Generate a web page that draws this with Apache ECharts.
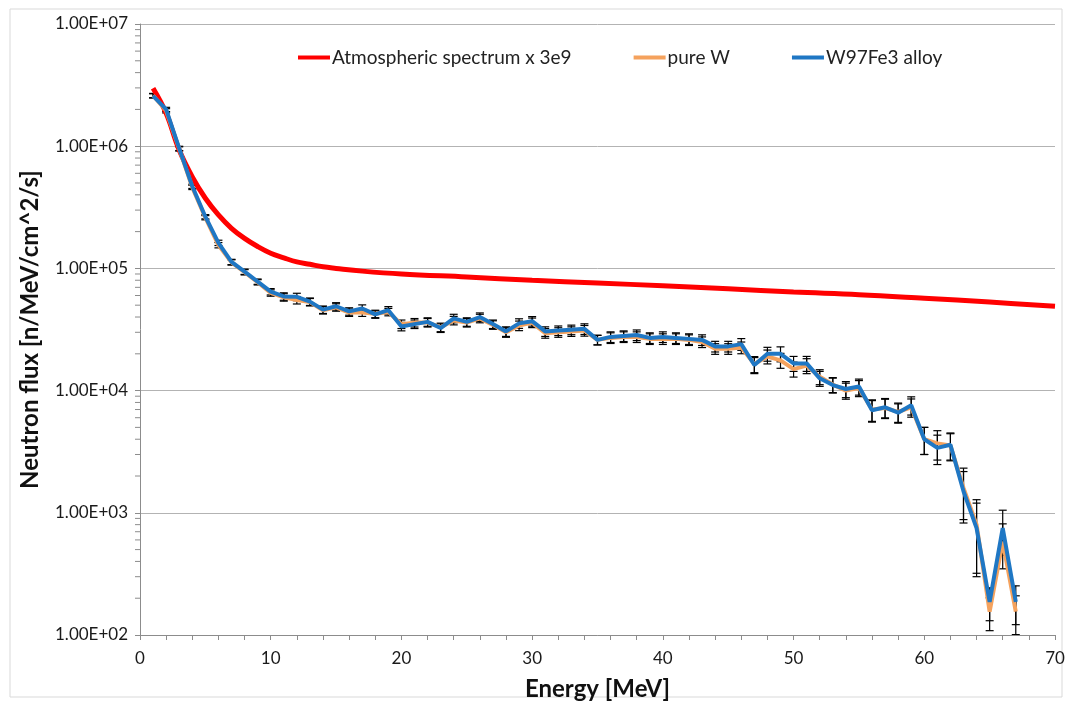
<!DOCTYPE html>
<html>
<head>
<meta charset="utf-8">
<script src="https://cdn.jsdelivr.net/npm/echarts@6/dist/echarts.min.js"></script>
<style>
  html, body { margin: 0; padding: 0; background: #fff; }
  #chart { width: 1070px; height: 701px; }
</style>
</head>
<body>
<div id="chart"></div>
<script>
// energy bins (MeV)
var energy = [1, 2, 3, 4, 5, 6, 7, 8, 9, 10, 11, 12, 13, 14, 15, 16, 17, 18, 19, 20,
    21, 22, 23, 24, 25, 26, 27, 28, 29, 30, 31, 32, 33, 34, 35, 36, 37, 38, 39, 40,
    41, 42, 43, 44, 45, 46, 47, 48, 49, 50, 51, 52, 53, 54, 55, 56, 57, 58, 59, 60,
    61, 62, 63, 64, 65, 66, 67];

// W97Fe3 alloy
var alloyFlux = [2.58e6, 2.0e6, 9.6e5, 4.7e5, 2.65e5, 1.62e5, 1.13e5, 9.4e4, 7.8e4, 6.45e4,
    5.9e4, 5.85e4, 5.35e4, 4.6e4, 4.9e4, 4.45e4, 4.7e4, 4.2e4, 4.55e4, 3.35e4,
    3.5e4, 3.65e4, 3.25e4, 3.9e4, 3.65e4, 4.0e4, 3.5e4, 3.05e4, 3.55e4, 3.7e4,
    3.05e4, 3.1e4, 3.15e4, 3.2e4, 2.6e4, 2.75e4, 2.8e4, 2.85e4, 2.7e4, 2.75e4,
    2.7e4, 2.65e4, 2.6e4, 2.3e4, 2.3e4, 2.4e4, 1.62e4, 2.0e4, 2.0e4, 1.67e4,
    1.67e4, 1.26e4, 1.11e4, 1.03e4, 1.08e4, 6.9e3, 7.3e3, 6.6e3, 7.6e3, 4.0e3,
    3.4e3, 3.6e3, 1.5e3, 750, 187, 750, 187];

// pure W
var pureFlux = [2.6e6, 1.95e6, 9.5e5, 4.6e5, 2.6e5, 1.55e5, 1.12e5, 9.3e4, 7.7e4, 6.3e4,
    5.8e4, 5.5e4, 5.3e4, 4.55e4, 4.8e4, 4.35e4, 4.35e4, 4.25e4, 4.4e4, 3.5e4,
    3.6e4, 3.6e4, 3.3e4, 3.75e4, 3.6e4, 3.9e4, 3.45e4, 3.0e4, 3.4e4, 3.6e4,
    2.95e4, 3.0e4, 3.05e4, 3.1e4, 2.6e4, 2.7e4, 2.75e4, 2.75e4, 2.65e4, 2.65e4,
    2.65e4, 2.6e4, 2.5e4, 2.2e4, 2.2e4, 2.25e4, 1.65e4, 1.9e4, 1.77e4, 1.5e4,
    1.6e4, 1.3e4, 1.12e4, 1.0e4, 1.05e4, 7.0e3, 7.2e3, 6.7e3, 7.3e3, 4.0e3,
    3.7e3, 3.55e3, 1.6e3, 800, 155, 580, 155];

// relative error of each bin
var relErr = [0.04, 0.04, 0.04, 0.04, 0.04, 0.05, 0.05, 0.05, 0.05, 0.06,
    0.07, 0.07, 0.07, 0.07, 0.07, 0.07, 0.07, 0.07, 0.07, 0.08,
    0.08, 0.08, 0.08, 0.08, 0.08, 0.08, 0.08, 0.09, 0.09, 0.09,
    0.09, 0.09, 0.09, 0.1, 0.09, 0.1, 0.1, 0.1, 0.1, 0.1,
    0.1, 0.1, 0.1, 0.1, 0.1, 0.11, 0.15, 0.13, 0.14, 0.14,
    0.14, 0.14, 0.14, 0.15, 0.15, 0.2, 0.18, 0.18, 0.17, 0.25,
    0.27, 0.25, 0.45, 0.6, 0.3, 0.4, 0.35];

// atmospheric spectrum x 3e9 (smooth curve)
var atmoEnergy = [1, 2, 3, 4, 5, 6, 7, 8, 9, 10, 11, 12, 13, 14, 15, 17, 20, 25, 30, 35, 40, 45, 50, 55, 60, 65, 70];
var atmoFlux = [2.98e6, 1.86e6, 9.3e5, 5.6e5, 3.75e5, 2.74e5, 2.13e5, 1.76e5, 1.51e5, 1.33e5,
    1.22e5, 1.13e5, 1.08e5, 1.03e5, 1.0e5, 9.5e4, 9.0e4, 8.5e4, 8.0e4, 7.6e4,
    7.2e4, 6.8e4, 6.4e4, 6.1e4, 5.7e4, 5.3e4, 4.9e4];

var yTicks = [1e2, 1e3, 1e4, 1e5, 1e6, 1e7];
var minorSteps = [2, 3, 4, 5, 6, 7, 8, 9];

var fontName = 'Lato';

function pairs(xs, ys) {
    var out = [];
    for (var i = 0; i < xs.length; i++) {
        out.push([xs[i], ys[i]]);
    }
    return out;
}

function fmtExp(v) {
    var e = Math.round(Math.log(v) / Math.LN10);
    var s = e < 10 ? '0' + e : '' + e;
    return '1.00E+' + s;
}

// black error bars for one series
function errorBars(name, vals) {
    var data = [];
    for (var i = 0; i < vals.length; i++) {
        data.push([energy[i], vals[i] * (1 - relErr[i]), vals[i] * (1 + relErr[i])]);
    }
    return {
        type: 'custom',
        name: name,
        silent: true,
        clip: true,
        z: 1,
        encode: {x: 0, y: [1, 2]},
        data: data,
        renderItem: function (params, api) {
            var x = api.value(0);
            var lo = api.coord([x, api.value(1)]);
            var hi = api.coord([x, api.value(2)]);
            var w = 4;
            var st = {stroke: '#000', lineWidth: 1.2};
            return {
                type: 'group',
                children: [
                    {type: 'line', shape: {x1: lo[0], y1: lo[1], x2: hi[0], y2: hi[1]}, style: st},
                    {type: 'line', shape: {x1: lo[0] - w, y1: lo[1], x2: lo[0] + w, y2: lo[1]}, style: st},
                    {type: 'line', shape: {x1: hi[0] - w, y1: hi[1], x2: hi[0] + w, y2: hi[1]}, style: st}
                ]
            };
        }
    };
}

// log minor ticks on the y axis (2..9 in each decade)
var minorData = [];
for (var d = 0; d < yTicks.length - 1; d++) {
    for (var k = 0; k < minorSteps.length; k++) {
        minorData.push([0, yTicks[d] * minorSteps[k]]);
    }
}

var myChart = echarts.init(document.getElementById('chart'));

var option = {
    animation: false,
    backgroundColor: '#fff',
    graphic: [{
        type: 'rect',
        shape: {x: 10, y: 9, width: 1052, height: 688},
        style: {fill: 'none', stroke: '#d9d9d9', lineWidth: 1},
        silent: true
    }],
    grid: {left: 140, right: 15, top: 24, bottom: 66, containLabel: false, outerBoundsMode: 'none'},
    legend: {
        top: 43,
        left: 293,
        itemGap: 62,
        itemWidth: 32,
        itemHeight: 4,
        icon: 'rect',
        textStyle: {fontFamily: fontName, fontSize: 19, color: '#222', padding: [0, 0, 0, -3]},
        data: ['Atmospheric spectrum x 3e9', 'pure W', 'W97Fe3 alloy']
    },
    xAxis: {
        type: 'value',
        min: 0,
        max: 70,
        interval: 10,
        name: 'Energy [MeV]',
        nameLocation: 'middle',
        nameGap: 42,
        nameTextStyle: {fontFamily: fontName, fontSize: 24, fontWeight: 'bold', color: '#111'},
        axisLine: {lineStyle: {color: '#8c8c8c', width: 1}},
        axisTick: {show: true, length: 5, lineStyle: {color: '#8c8c8c'}},
        minorTick: {show: true, splitNumber: 5, length: 5, lineStyle: {color: '#8c8c8c'}},
        axisLabel: {fontFamily: fontName, fontSize: 17, color: '#1a1a1a', margin: 15},
        splitLine: {show: false}
    },
    yAxis: {
        type: 'log',
        logBase: 10,
        min: 100,
        max: 1e7,
        name: 'Neutron flux [n/MeV/cm^2/s]',
        nameLocation: 'middle',
        nameGap: 98,
        nameTextStyle: {fontFamily: fontName, fontSize: 24, fontWeight: 'bold', color: '#111'},
        axisLine: {show: true, lineStyle: {color: '#8c8c8c', width: 1}},
        axisTick: {show: true, length: 5, lineStyle: {color: '#8c8c8c'}},
        axisLabel: {
            fontFamily: fontName, fontSize: 17, color: '#1a1a1a', margin: 12,
            formatter: function (v) { return fmtExp(v); }
        },
        splitLine: {show: true, lineStyle: {color: '#b3b3b3', width: 1}}
    },
    series: [
        {
            type: 'custom',
            name: 'minorTicks',
            silent: true,
            clip: false,
            data: minorData,
            encode: {x: 0, y: 1},
            renderItem: function (params, api) {
                var p = api.coord([0, api.value(1)]);
                return {
                    type: 'line',
                    shape: {x1: p[0] - 5, y1: p[1], x2: p[0], y2: p[1]},
                    style: {stroke: '#8c8c8c', lineWidth: 1}
                };
            }
        },
        errorBars('errPure', pureFlux),
        errorBars('errAlloy', alloyFlux),
        {
            name: 'Atmospheric spectrum x 3e9',
            type: 'line',
            smooth: 0.4,
            symbol: 'none',
            z: 3,
            lineStyle: {color: '#ff0000', width: 5},
            itemStyle: {color: '#ff0000'},
            data: pairs(atmoEnergy, atmoFlux)
        },
        {
            name: 'pure W',
            type: 'line',
            symbol: 'none',
            z: 4,
            lineStyle: {color: '#f5a25d', width: 4},
            itemStyle: {color: '#f5a25d'},
            data: pairs(energy, pureFlux)
        },
        {
            name: 'W97Fe3 alloy',
            type: 'line',
            symbol: 'none',
            z: 5,
            lineStyle: {color: '#1f77c4', width: 4},
            itemStyle: {color: '#1f77c4'},
            data: pairs(energy, alloyFlux)
        }
    ]
};

myChart.setOption(option);
</script>
</body>
</html>
